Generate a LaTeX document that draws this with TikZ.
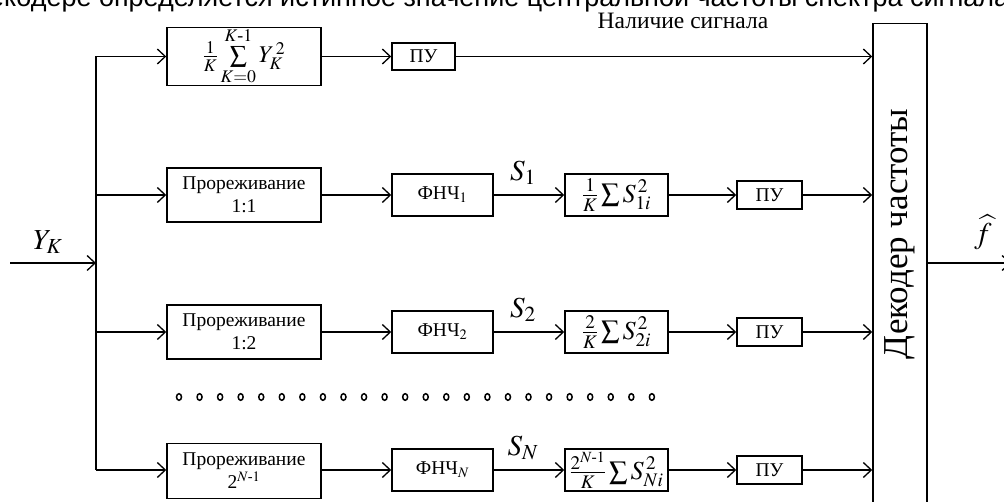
\documentclass[tikz,border=0pt]{standalone}
\usepackage{amsmath}
\usepackage{mathptmx}
\usepackage{fontspec}
\setmainfont{Liberation Serif}
\newfontfamily\topfont{Liberation Sans}
\usetikzlibrary{arrows.meta}
\begin{document}
\begin{tikzpicture}[x=1pt,y=-1pt,line width=1.3pt,
  blk/.style={draw,rectangle,inner sep=0pt,line width=1.5pt,align=center,
    font=\fontsize{19.5}{23}\selectfont},
  mblk/.style={blk,font=\fontsize{26}{30}\selectfont},
  arr/.style={-{Straight Barb[length=8pt,width=15pt,line width=1.3pt]}},
  lbl/.style={inner sep=0pt,font=\fontsize{29}{33}\selectfont}]
\useasboundingbox (0,0) rectangle (1004,502);
\clip (0,0) rectangle (1004,502);
% cut-off caption line at top
\node[anchor=base east,inner sep=0pt,font=\topfont\fontsize{27}{31}\selectfont] (cap) at (1010,6.5)
  {В декодере определяется истинное значение центральной частоты спектра сигнала};
% row 1
\node[mblk,font=\fontsize{24}{28}\selectfont,minimum width=154pt,minimum height=55pt] (b1) at (244,56.5)
  {$\frac{1}{K}\sum\limits_{K=0}^{K\text{-}1} Y_K^{\,2}$};
\node[blk,minimum width=63pt,minimum height=27pt] (pu0) at (423.5,56.5) {ПУ};
\node[inner sep=0pt,font=\fontsize{23.5}{27}\selectfont] (nal) at (683,21) {Наличие сигнала};
% rows
\node[blk,minimum width=154pt,minimum height=54pt] (d1) at (244,195) {Прореживание\\1:1};
\node[blk,minimum width=101pt,minimum height=42pt] (f1) at (442.5,195) {ФНЧ$_1$};
\node[mblk,minimum width=103pt,minimum height=42pt] (s1) at (616.5,195) {$\frac{1}{K}\sum S_{1i}^{\,2}$};
\node[blk,minimum width=65pt,minimum height=28pt] (p1) at (769.5,195) {ПУ};

\node[blk,minimum width=154pt,minimum height=54pt] (d2) at (244,332) {Прореживание\\1:2};
\node[blk,minimum width=101pt,minimum height=42pt] (f2) at (442.5,332) {ФНЧ$_2$};
\node[mblk,minimum width=103pt,minimum height=42pt] (s2) at (616.5,332) {$\frac{2}{K}\sum S_{2i}^{\,2}$};
\node[blk,minimum width=65pt,minimum height=28pt] (p2) at (769.5,332) {ПУ};

\node[blk,minimum width=154pt,minimum height=55pt] (d3) at (244,471) {Прореживание\\2$^{N\text{-}1}$};
\node[blk,minimum width=101pt,minimum height=42pt] (f3) at (442.5,470) {ФНЧ$_N$};
\node[mblk,minimum width=103pt,minimum height=42pt] (s3) at (616.5,470) {$\frac{2^{N\text{-}1}}{K}\sum S_{Ni}^{\,2}$};
\node[blk,minimum width=65pt,minimum height=28pt] (p3) at (769.5,470) {ПУ};
% decoder
\node[draw,line width=1.5pt,inner sep=0pt,minimum width=54pt,minimum height=500pt,anchor=north] (dec) at (900,23) {};
\node[rotate=90,inner sep=0pt,font=\fontsize{35}{40}\selectfont] (dect) at (900,234) {Декодер частоты};
% bus and input
\coordinate (bt) at (96,56.5);
\coordinate (bb) at (96,470);
\coordinate (in) at (10,263);
\coordinate (out) at (1011,263);
\draw (bt) -- (bb);
\draw[arr] (in) -- (in -| bt);
\node[lbl] (yk) at (48,242) {$Y_K$};
\draw[arr] (bt) -- (b1.west);
\draw[arr] (d1.west -| bt) -- (d1.west);
\draw[arr] (d2.west -| bt) -- (d2.west);
\draw[arr] (bb) -- (bb -| d3.west);
% row connectors
\draw[arr] (b1) -- (pu0);
\draw[arr] (pu0) -- (pu0 -| dec.west);
\foreach \r in {1,2,3}{
  \draw[arr] (d\r.east |- f\r) -- (f\r.west);
  \draw[arr] (f\r) -- (s\r);
  \draw[arr] (s\r) -- (p\r);
  \draw[arr] (p\r) -- (p\r -| dec.west);
}
\node[lbl] (l1) at (523,173) {$S_1$};
\node[lbl] (l2) at (523,310) {$S_2$};
\node[lbl] (l3) at (523,448) {$S_N$};
% output
\draw[arr] (dec.east |- in) -- (out);
\node[inner sep=0pt,font=\fontsize{30}{34}\selectfont] (fh) at (983,232) {$\widehat{f}$};
% dots
\foreach \i in {0,...,23}
  \draw[line width=1.5pt] (179+\i*20.56,397) circle[x radius=2.5pt,y radius=3.3pt];
\end{tikzpicture}
\end{document}
